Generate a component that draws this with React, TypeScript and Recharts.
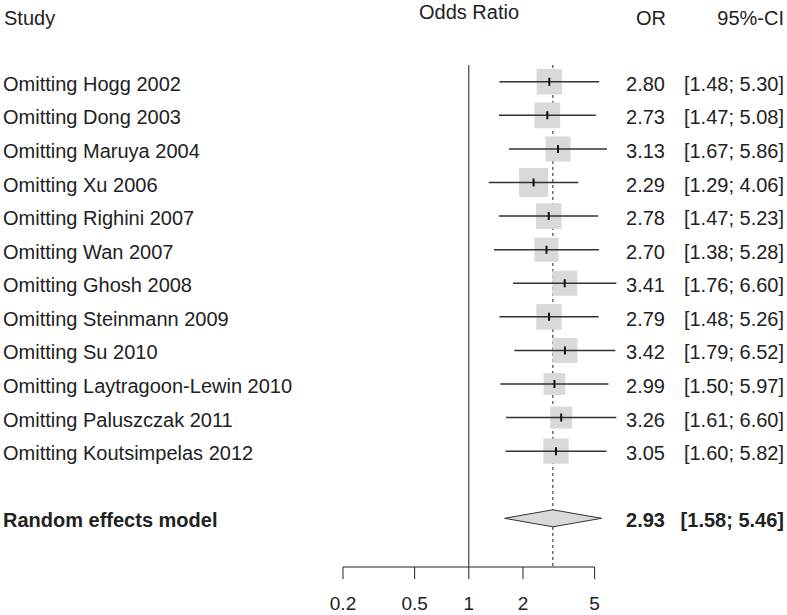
import React from "react";
import { ReferenceLine, Scatter, ScatterChart, XAxis, YAxis } from "recharts";

// leave-one-out sensitivity analysis
const studies = [
  "Hogg 2002",
  "Dong 2003",
  "Maruya 2004",
  "Xu 2006",
  "Righini 2007",
  "Wan 2007",
  "Ghosh 2008",
  "Steinmann 2009",
  "Su 2010",
  "Laytragoon-Lewin 2010",
  "Paluszczak 2011",
  "Koutsimpelas 2012",
];
const oddsRatios = [2.8, 2.73, 3.13, 2.29, 2.78, 2.7, 3.41, 2.79, 3.42, 2.99, 3.26, 3.05];
const ciLower = [1.48, 1.47, 1.67, 1.29, 1.47, 1.38, 1.76, 1.48, 1.79, 1.5, 1.61, 1.6];
const ciUpper = [5.3, 5.08, 5.86, 4.06, 5.23, 5.28, 6.6, 5.26, 6.52, 5.97, 6.6, 5.82];
// relative weight of each row (drives the square size)
const boxWeights = [1.02, 1.03, 1.0, 1.16, 1.02, 0.96, 1.0, 1.02, 1.0, 0.87, 0.88, 1.01];

const pooledLabel = "Random effects model";
const pooledOR = 2.93;
const pooledLower = 1.58;
const pooledUpper = 5.46;

const nullEffect = 1;
const axisTicks = [0.2, 0.5, 1, 2, 5];

const POOLED_ROW = studies.length + 1;
const ROW_DOMAIN: [number, number] = [-0.5, 14.45];
const labelRows = [...studies.map((_, i) => i), POOLED_ROW];

const studyRows = studies.map((name, i) => ({
  name,
  row: i,
  or: oddsRatios[i],
  weight: boxWeights[i],
}));

// one two-point series per study for the confidence interval whisker
const ciRows = studies.map((_, i) => [
  { row: i, or: ciLower[i] },
  { row: i, or: ciUpper[i] },
]);

const pooledRows = [pooledLower, pooledOR, pooledUpper].map((v) => ({
  row: POOLED_ROW,
  or: v,
}));

// vertical guides, drawn as series so they sit under the squares
const verticalAt = (v: number) => ROW_DOMAIN.map((r) => ({ row: r, or: v }));

const fmt = (v: number) => v.toFixed(2);
const FONT = "'Liberation Sans', Arial, sans-serif";
const TEXT = "#222";

const Empty = () => <g />;

const StudyBox = ({ cx, cy, payload }: any) => {
  const side = 25 * payload.weight;
  return <rect x={cx - side / 2} y={cy - side / 2} width={side} height={side} fill="#d9d9d9" />;
};

const EstimateTick = ({ cx, cy }: any) => (
  <line x1={cx} x2={cx} y1={cy - 4} y2={cy + 4} stroke="#111" strokeWidth={2} />
);

const Diamond = (props: any) => {
  const pts = props.points;
  if (!pts || pts.length < 3) return <g />;
  const [l, m, r] = pts;
  const h = 8.5;
  return (
    <polygon
      points={`${l.x},${l.y} ${m.x},${m.y - h} ${r.x},${r.y} ${m.x},${m.y + h}`}
      fill="#d9d9d9"
      stroke="#333"
      strokeWidth={1}
    />
  );
};

const StudyLabel = ({ y, payload }: any) => {
  const i = payload.value;
  const pooled = i === POOLED_ROW;
  return (
    <text x={3} y={y} dy={9} fontSize={20} fontFamily={FONT} fontWeight={pooled ? 700 : 400} fill={TEXT}>
      {pooled ? pooledLabel : `Omitting ${studies[i]}`}
    </text>
  );
};

const EffectLabel = ({ y, payload }: any) => {
  const i = payload.value;
  const pooled = i === POOLED_ROW;
  const est = pooled ? pooledOR : oddsRatios[i];
  const lo = pooled ? pooledLower : ciLower[i];
  const hi = pooled ? pooledUpper : ciUpper[i];
  return (
    <g fontSize={20} fontFamily={FONT} fontWeight={pooled ? 700 : 400} fill={TEXT}>
      <text x={665} y={y} dy={9} textAnchor="end">
        {fmt(est)}
      </text>
      <text x={784} y={y} dy={9} textAnchor="end">
        {`[${fmt(lo)}; ${fmt(hi)}]`}
      </text>
    </g>
  );
};

export default function App() {
  return (
    <div style={{ position: "relative", width: 787, height: 615, background: "#fff" }}>
      <style>{"body{margin:0}"}</style>
      <ScatterChart width={787} height={615} margin={{ top: 65, right: 0, bottom: 0, left: 0 }}>
        <XAxis
          type="number"
          dataKey="or"
          scale="log"
          domain={[0.2, 8]}
          allowDataOverflow
          ticks={axisTicks}
          interval={0}
          tickFormatter={(v: number) => String(v)}
          axisLine={false}
          tickSize={12}
          tickMargin={18}
          height={48}
          tickLine={{ stroke: TEXT }}
          tick={{ fontSize: 19, fill: TEXT, fontFamily: FONT }}
        />
        <YAxis
          type="number"
          dataKey="row"
          domain={ROW_DOMAIN}
          reversed
          allowDataOverflow
          ticks={labelRows}
          interval={0}
          width={343}
          axisLine={false}
          tickLine={false}
          tick={<StudyLabel />}
        />
        <YAxis
          yAxisId="right"
          orientation="right"
          type="number"
          dataKey="row"
          domain={ROW_DOMAIN}
          reversed
          allowDataOverflow
          ticks={labelRows}
          interval={0}
          width={155.63}
          axisLine={false}
          tickLine={false}
          tick={<EffectLabel />}
        />
        <ReferenceLine
          segment={[
            { x: axisTicks[0], y: ROW_DOMAIN[1] },
            { x: axisTicks[axisTicks.length - 1], y: ROW_DOMAIN[1] },
          ]}
          stroke={TEXT}
          ifOverflow="visible"
        />
        <Scatter
          data={verticalAt(nullEffect)}
          shape={<Empty />}
          line={{ stroke: TEXT, strokeWidth: 1 }}
          lineType="joint"
          isAnimationActive={false}
        />
        <Scatter
          data={verticalAt(pooledOR)}
          shape={<Empty />}
          line={{ stroke: "#444", strokeWidth: 1.2, strokeDasharray: "3 3" }}
          lineType="joint"
          isAnimationActive={false}
        />
        <Scatter data={studyRows} shape={<StudyBox />} isAnimationActive={false} />
        {ciRows.map((pts, i) => (
          <Scatter
            key={studies[i]}
            data={pts}
            shape={<Empty />}
            line={{ stroke: "#333", strokeWidth: 1.5 }}
            lineType="joint"
            isAnimationActive={false}
          />
        ))}
        <Scatter data={studyRows} shape={<EstimateTick />} isAnimationActive={false} />
        <Scatter data={pooledRows} shape={<Empty />} line={Diamond} lineType="joint" isAnimationActive={false} />
      </ScatterChart>
      <svg
        width={787}
        height={65}
        style={{ position: "absolute", left: 0, top: 0, pointerEvents: "none" }}
        fontFamily={FONT}
        fontSize={20}
        fill={TEXT}
      >
        <text x={4} y={25}>Study</text>
        <text x={469} y={19} textAnchor="middle">Odds Ratio</text>
        <text x={666} y={25} textAnchor="end">OR</text>
        <text x={784} y={25} textAnchor="end">95%-CI</text>
      </svg>
    </div>
  );
}
